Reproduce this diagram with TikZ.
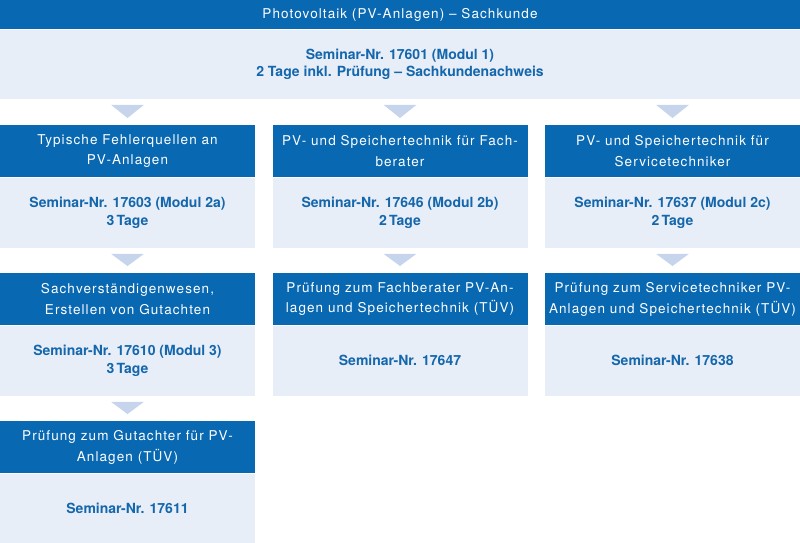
\documentclass[tikz,border=0pt]{standalone}
\usepackage{fontspec}
\setmainfont{TeX Gyre Heros}
\newfontfamily\hdrfam[LetterSpace=8]{TeX Gyre Heros}
\newfontfamily\bodyfam{TeX Gyre Heros}
\usetikzlibrary{calc}
\definecolor{dblue}{HTML}{0868B2}
\definecolor{lblue}{HTML}{E8EEF8}
\definecolor{ablue}{HTML}{C6D4EC}
\definecolor{tblue}{HTML}{1467AC}
\tikzset{
  hdr/.style={fill=dblue, text=white, minimum width=255pt, minimum height=52pt,
    inner sep=0pt, align=center, anchor=north,
    font=\hdrfam\fontsize{13.5}{20.5}\selectfont},
  body/.style={fill=lblue, text=tblue, minimum width=255pt, minimum height=70pt,
    inner sep=0pt, align=center, anchor=north,
    font=\bodyfam\bfseries\fontsize{14}{17.5}\selectfont},
  tri/.style={fill=ablue}
}
\newcommand{\tridown}[2]{%
  \fill[tri] ($(#1.south -| #2.north)+(-16.5,6)$) -- ($(#1.south -| #2.north)+(16.5,6)$) -- ($(#2.north)+(0,-7)$) -- cycle;}
\begin{document}
\begin{tikzpicture}[x=1pt,y=-1pt]
\useasboundingbox (0,0) rectangle (800,543);
% top
\node[hdr, minimum width=800pt, minimum height=29pt] (top) at (400,0) {Photovoltaik (PV-Anlagen) – Sachkunde};
\node[body, minimum width=800pt, minimum height=69pt] (topb) at (top.south) {Seminar-Nr. 17601 (Modul 1)\\2 Tage inkl. Prüfung – Sachkundenachweis};
% column 1
\node[hdr] (h1) at (127.5,125) {Typische Fehlerquellen an\\PV-Anlagen};
\node[body] (b1) at (h1.south) {Seminar-Nr. 17603 (Modul 2a)\\3\,Tage};
\node[hdr] (h4) at (127.5,273) {Sachverständigenwesen,\\Erstellen von Gutachten};
\node[body] (b4) at (h4.south) {Seminar-Nr. 17610 (Modul 3)\\3\,Tage};
\node[hdr] (h7) at (127.5,421) {Prüfung zum Gutachter für PV-\\Anlagen (TÜV)};
\node[body] (b7) at (h7.south) {Seminar-Nr. 17611};
% column 2
\node[hdr] (h2) at (400,125) {PV- und Speichertechnik für Fach-\\berater};
\node[body] (b2) at (h2.south) {Seminar-Nr. 17646 (Modul 2b)\\2\,Tage};
\node[hdr] (h5) at (400,273) {Prüfung zum Fachberater PV-An-\\lagen und Speichertechnik (TÜV)};
\node[body] (b5) at (h5.south) {Seminar-Nr. 17647};
% column 3
\node[hdr] (h3) at (672.5,125) {PV- und Speichertechnik für\\Servicetechniker};
\node[body] (b3) at (h3.south) {Seminar-Nr. 17637 (Modul 2c)\\2\,Tage};
\node[hdr] (h6) at (672.5,273) {Prüfung zum Servicetechniker PV-\\Anlagen und Speichertechnik (TÜV)};
\node[body] (b6) at (h6.south) {Seminar-Nr. 17638};
% connectors
\tridown{topb}{h1}
\tridown{topb}{h2}
\tridown{topb}{h3}
\tridown{b1}{h4}
\tridown{b2}{h5}
\tridown{b3}{h6}
\tridown{b4}{h7}
\end{tikzpicture}
\end{document}
